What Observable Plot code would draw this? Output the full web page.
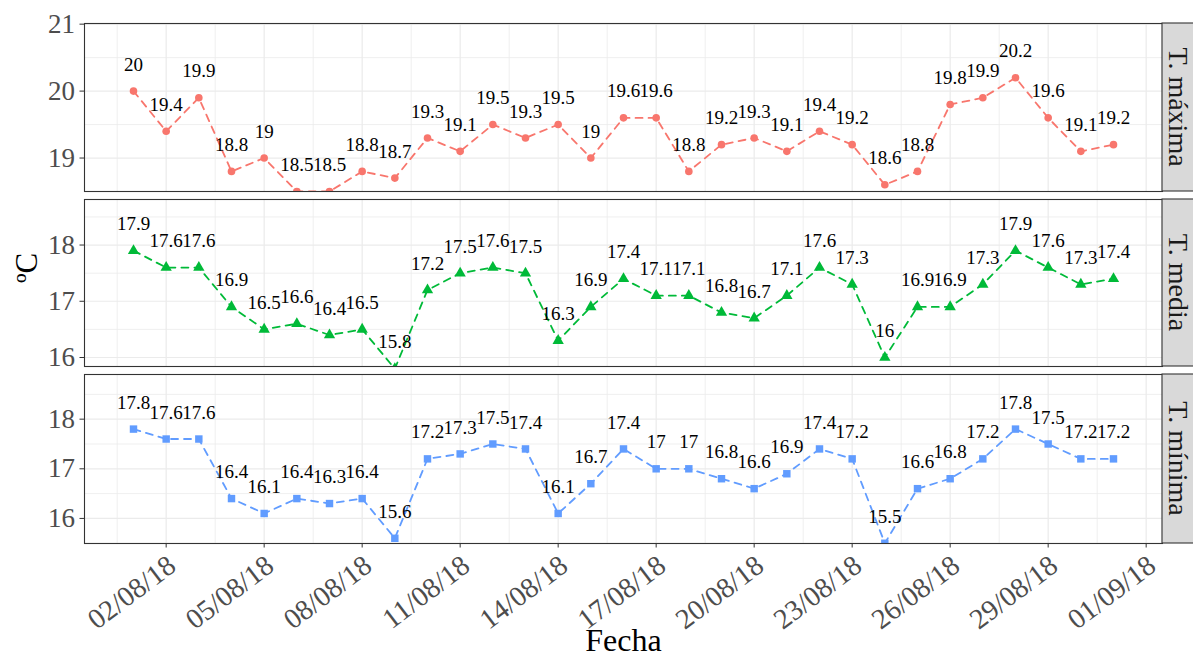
<!DOCTYPE html>
<html>
<head>
<meta charset="utf-8">
<script src="https://cdn.jsdelivr.net/npm/d3@7"></script>
<script src="https://cdn.jsdelivr.net/npm/@observablehq/plot@0.6"></script>
<style>
  body { margin: 0; background: #fff; }
  #chart { position: relative; width: 1193px; height: 659px; overflow: hidden; background: #fff; }
  #chart svg { position: absolute; left: 0; top: 0; }
</style>
</head>
<body>
<div id="chart"></div>
<script>
// Daily temperatures, August 2018 (ºC)
const fechas = d3.utcDays(new Date("2018-08-01"), new Date("2018-09-01"));

const tMaxima = [20, 19.4, 19.9, 18.8, 19, 18.5, 18.5, 18.8, 18.7, 19.3, 19.1, 19.5, 19.3, 19.5, 19,
  19.6, 19.6, 18.8, 19.2, 19.3, 19.1, 19.4, 19.2, 18.6, 18.8, 19.8, 19.9, 20.2, 19.6, 19.1, 19.2];
const tMedia = [17.9, 17.6, 17.6, 16.9, 16.5, 16.6, 16.4, 16.5, 15.8, 17.2, 17.5, 17.6, 17.5, 16.3, 16.9,
  17.4, 17.1, 17.1, 16.8, 16.7, 17.1, 17.6, 17.3, 16, 16.9, 16.9, 17.3, 17.9, 17.6, 17.3, 17.4];
const tMinima = [17.8, 17.6, 17.6, 16.4, 16.1, 16.4, 16.3, 16.4, 15.6, 17.2, 17.3, 17.5, 17.4, 16.1, 16.7,
  17.4, 17, 17, 16.8, 16.6, 16.9, 17.4, 17.2, 15.5, 16.6, 16.8, 17.2, 17.8, 17.5, 17.2, 17.2];

const paneles = ["T. máxima", "T. media", "T. mínima"];
const colores = ["#F8766D", "#00BA38", "#619CFF"];
const simbolos = ["circle", "triangle", "square"];

// x axis ticks (every 3 days) and the minor grid between them
const xTicks = ["2018-08-02", "2018-08-05", "2018-08-08", "2018-08-11", "2018-08-14", "2018-08-17",
  "2018-08-20", "2018-08-23", "2018-08-26", "2018-08-29", "2018-09-01"].map(d => new Date(d));
const xMinor = ["2018-07-31T12:00Z", "2018-08-03T12:00Z", "2018-08-06T12:00Z", "2018-08-09T12:00Z",
  "2018-08-12T12:00Z", "2018-08-15T12:00Z", "2018-08-18T12:00Z", "2018-08-21T12:00Z",
  "2018-08-24T12:00Z", "2018-08-27T12:00Z", "2018-08-30T12:00Z"].map(d => new Date(d));
const xDomain = [new Date("2018-07-30T12:00Z"), new Date("2018-09-01T12:00Z")];

// y ticks per panel
const yMajor = [[19, 20, 21], [16, 17, 18], [16, 17, 18]];
const yMinor = [[18.5, 19.5, 20.5], [16.5, 17.5, 18.5], [15.5, 16.5, 17.5, 18.5]];
const yDomains = [[18.5, 21.01], [15.84, 18.81], [15.495, 18.9]];

// panel vertical placement inside the 659px-tall page
const W = 1193, H = 659;
const panelTop = [23, 199, 374];
const panelBottom = [191, 366, 543];

const serif = "'Liberation Serif', 'Times New Roman', Times, serif";
const series = [tMaxima, tMedia, tMinima];

// facet strip on the right side of each panel
function strip(label) {
  return (index, scales, values, dims) => {
    const g = d3.create("svg:g");
    const x0 = dims.width - dims.marginRight;
    const y0 = dims.marginTop;
    const h = dims.height - dims.marginTop - dims.marginBottom;
    g.append("rect")
      .attr("x", x0).attr("y", y0).attr("width", 42).attr("height", h)
      .attr("fill", "#D9D9D9").attr("stroke", "#333333").attr("stroke-width", 1.1);
    g.append("text")
      .attr("transform", `translate(${x0 + 16},${y0 + h / 2}) rotate(90)`)
      .attr("text-anchor", "middle").attr("dy", "0.32em")
      .attr("font-family", serif).attr("font-size", 28).attr("fill", "#1A1A1A")
      .text(label);
    return g.node();
  };
}

const chart = document.getElementById("chart");

paneles.forEach((panel, i) => {
  const rows = fechas.map((f, j) => ({fecha: f, valor: series[i][j]}));
  const last = i === paneles.length - 1;
  const marks = [
    Plot.gridX(xMinor, {stroke: "#EBEBEB", strokeOpacity: 1, strokeWidth: 0.8}),
    Plot.gridX(xTicks, {stroke: "#EBEBEB", strokeOpacity: 1, strokeWidth: 1.2}),
    Plot.gridY(yMinor[i], {stroke: "#EBEBEB", strokeOpacity: 1, strokeWidth: 0.8}),
    Plot.gridY(yMajor[i], {stroke: "#EBEBEB", strokeOpacity: 1, strokeWidth: 1.2}),
    Plot.line(rows, {x: "fecha", y: "valor", stroke: colores[i], strokeWidth: 1.8,
      strokeDasharray: "7,6", clip: true}),
    Plot.dot(rows, {x: "fecha", y: "valor", fill: colores[i], stroke: "none",
      symbol: () => simbolos[i], r: i === 0 ? 3.8 : 4.2, clip: true}),
    Plot.text(rows, {x: "fecha", y: "valor", text: d => String(d.valor), dy: -26.5,
      fontSize: 19, fontFamily: serif, fill: "black", clip: true}),
    Plot.frame({stroke: "#333333", strokeWidth: 1.1}),
    Plot.axisY(yMajor[i], {tickSize: 4.5, tickPadding: 5, fontSize: 27, fontFamily: serif,
      tickFormat: d => String(d), fill: "#4D4D4D", stroke: "#333333", label: null}),
    strip(panel)
  ];
  if (i === 1) {
    marks.push(Plot.text(["ºC"], {text: d => d, frameAnchor: "left", dx: -57, rotate: -90,
      fontSize: 31, fontFamily: serif, fill: "black"}));
  }
  if (last) {
    marks.push(Plot.axisX(xTicks, {tickSize: 4.5, tickPadding: 4, tickRotate: -37,
      tickFormat: d3.utcFormat("%d/%m/%y"), fontSize: 28.5, fontFamily: serif,
      fill: "#4D4D4D", stroke: "#333333", label: null}));
    marks.push(Plot.text(["Fecha"], {text: d => d, frameAnchor: "bottom", dy: 107,
      fontSize: 32, fontFamily: serif, fill: "black"}));
  }
  const svg = Plot.plot({
    width: W,
    height: H,
    marginTop: panelTop[i],
    marginBottom: H - panelBottom[i],
    marginLeft: 84,
    marginRight: 31,
    style: {fontFamily: serif, background: "transparent", overflow: "visible"},
    x: {type: "utc", domain: xDomain, axis: last ? undefined : null},
    y: {domain: yDomains[i], axis: null},
    marks
  });
  // rotated date labels: nudge them down/right so they hang from the tick
  if (last) {
    svg.querySelectorAll("g[aria-label='x-axis tick label'] text").forEach(t => {
      const tr = t.getAttribute("transform") || "";
      t.setAttribute("transform", `translate(6,10) ${tr}`);
    });
  }
  chart.appendChild(svg);
});
</script>
</body>
</html>
